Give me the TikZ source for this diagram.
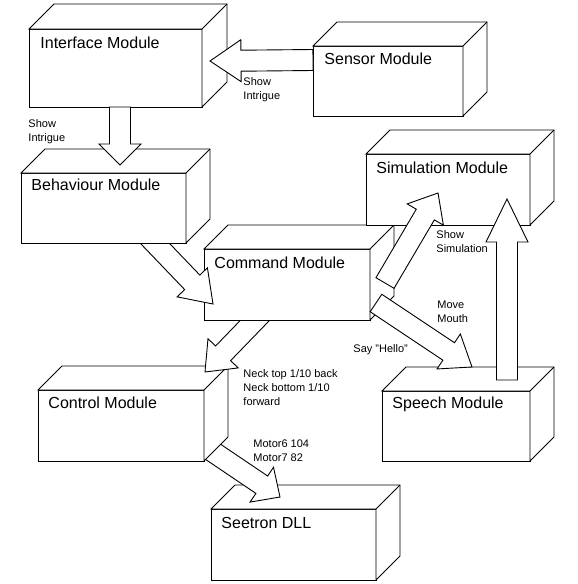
\documentclass[tikz,border=0pt]{standalone}
\usepackage{fontspec}
\setmainfont{Liberation Sans}
\usetikzlibrary{calc}

% top and right face of a module box
\newcommand{\cube}[2][24]{%
  \draw[fill=white] (#2.north west) -- ++(#1,-#1) -| ($(#2.south east)+(#1,-#1)$)
    -- (#2.south east) -- (#2.north east) -- cycle;
  \draw (#2.north east) -- ++(#1,-#1);}

% wide white arrow from #2 to #3, head length #1
\newcommand{\fatarrow}[3][25]{%
  \coordinate (hd) at ($(#3)!#1pt!(#2)$);
  \draw[fatarr] ($(#2)!10.5pt!90:(#3)$) -- ($(hd)!10.5pt!90:(#3)$)
    -- ($(hd)!21pt!90:(#3)$) -- (#3) -- ($(hd)!21pt!-90:(#3)$)
    -- ($(hd)!10.5pt!-90:(#3)$) -- ($(#2)!10.5pt!-90:(#3)$) -- cycle;}

\begin{document}
\begin{tikzpicture}[
      x = 1pt, y = -1pt,
      line width = .9pt,
      modbox/.style = {
        draw, fill = white, anchor = north west, inner sep = 0pt, outer sep = 0pt,
        minimum width = 165pt, minimum height = 71pt},
      modtitle/.style = {
        anchor = base west, inner sep = 0pt, font = \fontsize{16}{19}\selectfont},
      lbl/.style = {
        anchor = north west, inner sep = 0pt, align = left,
        font = \fontsize{11}{14}\selectfont},
      fatarr/.style = {draw, fill = white, line join = miter}
      ]
    \useasboundingbox (0,0) rectangle (578,584);

    \coordinate (sensor-out) at (313,60);
    \coordinate (iface-in) at (210,61);
    \coordinate (iface-out) at (120,107);
    \coordinate (behav-in) at (120,165);
    \coordinate (behav-out) at (145,233);
    \coordinate (cmd-in) at (213,304);
    \coordinate (cmd-down) at (265,310);
    \coordinate (ctrl-in) at (205,372);
    \coordinate (ctrl-out) at (200,443);
    \coordinate (seetron-in) at (280,497);
    \coordinate (cmd-up) at (385,283);
    \coordinate (sim-in) at (438,193);
    \coordinate (cmd-right) at (376,303);
    \coordinate (speech-in) at (472,367);
    \coordinate (speech-out) at (507,380);
    \coordinate (sim-low) at (507,199);

    % lower chain first, so each arrow sits under its source box
    \node[modbox] (seetron) at (211,509) {};
    \cube{seetron}
    \node[modtitle] (seetron-t) at ([shift={(10,19.5)}]seetron.north west) {Seetron DLL};
    \fatarrow[22]{ctrl-out}{seetron-in}

    \node[modbox, minimum width = 166pt] (ctrl) at (38,390) {};
    \cube{ctrl}
    \node[modtitle] (ctrl-t) at ([shift={(10,18.5)}]ctrl.north west) {Control Module};
    \fatarrow[26]{cmd-down}{ctrl-in}

    \node[modbox, minimum width = 166pt] (cmd) at (204,249) {};
    \cube{cmd}
    \node[modtitle] (cmd-t) at ([shift={(10,19.5)}]cmd.north west) {Command Module};
    \fatarrow[30]{behav-out}{cmd-in}

    \node[modbox, minimum height = 70pt] (behav) at (21,173) {};
    \cube{behav}
    \node[modtitle] (behav-t) at ([shift={(10,17.5)}]behav.north west) {Behaviour Module};

    \node[modbox, minimum width = 173pt, minimum height = 78pt] (iface) at (29,29) {};
    \cube[25]{iface}
    \node[modtitle] (iface-t) at ([shift={(11,19.5)}]iface.north west) {Interface Module};

    \node[modbox, minimum width = 150pt, minimum height = 70pt] (sensor) at (313,46) {};
    \cube{sensor}
    \node[modtitle] (sensor-t) at ([shift={(11,18.5)}]sensor.north west) {Sensor Module};

    \node[modbox, minimum width = 164pt] (sim) at (366,154) {};
    \cube{sim}
    \node[modtitle] (sim-t) at ([shift={(10,19.5)}]sim.north west) {Simulation Module};

    \node[modbox, minimum width = 148pt, minimum height = 70pt] (speech) at (382,391) {};
    \cube{speech}
    \node[modtitle] (speech-t) at ([shift={(10,17.5)}]speech.north west) {Speech Module};

    % arrows over both ends
    \fatarrow[31]{sensor-out}{iface-in}
    \fatarrow[21]{iface-out}{behav-in}
    \fatarrow[25]{cmd-up}{sim-in}
    \fatarrow[28]{cmd-right}{speech-in}
    \fatarrow[43]{speech-out}{sim-low}

    \node[lbl] (lab-sensor) at (243,77) {Show\\Intrigue};
    \node[lbl] (lab-iface) at (28,119) {Show\\Intrigue};
    \node[lbl] (lab-sim) at (436,230) {Show\\Simulation};
    \node[lbl] (lab-mouth) at (437,300) {Move\\Mouth};
    \node[lbl] (lab-hello) at (353,344) {Say "Hello"};
    \node[lbl] (lab-neck) at (243,369) {Neck top 1/10 back\\Neck bottom 1/10\\forward};
    \node[lbl] (lab-motor) at (253,439) {Motor6 104\\Motor7 82};
  \end{tikzpicture}
\end{document}
